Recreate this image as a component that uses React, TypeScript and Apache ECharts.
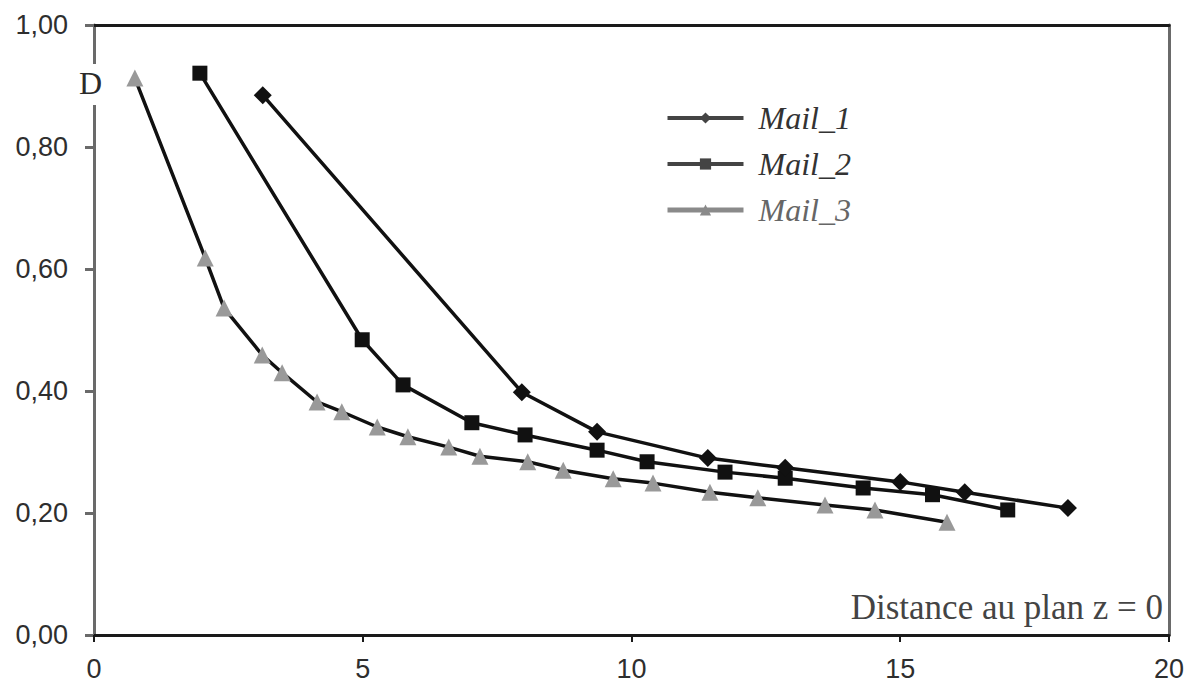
import React, { useEffect, useRef } from "react";
import * as echarts from "echarts";

const seriesNames = ["Mail_1", "Mail_2", "Mail_3"];

const mail1: [number, number][] = [
  [3.14, 0.885], [7.96, 0.398], [9.36, 0.333], [11.42, 0.29], [12.86, 0.274],
  [15.0, 0.251], [16.2, 0.234], [18.12, 0.208],
];

const mail2: [number, number][] = [
  [1.97, 0.921], [4.99, 0.484], [5.75, 0.41], [7.03, 0.348], [8.02, 0.328],
  [9.36, 0.303], [10.29, 0.284], [11.74, 0.267], [12.86, 0.257], [14.31, 0.241],
  [15.6, 0.23], [17.0, 0.205],
];

const mail3: [number, number][] = [
  [0.76, 0.913], [2.07, 0.618], [2.42, 0.536], [3.13, 0.459], [3.5, 0.43],
  [4.15, 0.382], [4.61, 0.366], [5.27, 0.341], [5.84, 0.325], [6.6, 0.308],
  [7.18, 0.293], [8.07, 0.284], [8.73, 0.27], [9.66, 0.256], [10.4, 0.249],
  [11.46, 0.234], [12.35, 0.225], [13.6, 0.213], [14.53, 0.205], [15.87, 0.185],
];

const xTicks = { min: 0, max: 20, interval: 5 };
const yTicks = { min: 0, max: 1, interval: 0.2 };

const yLabelText = "D";
const xLabelText = "Distance au plan z = 0";

export default function App() {
  const ref = useRef<HTMLDivElement>(null);

  useEffect(() => {
    if (!ref.current) return;
    const chart = echarts.init(ref.current, undefined, { renderer: "svg" });
    const labelStyle = {
      fontFamily: "'Liberation Sans', Arial, sans-serif",
      fontSize: 27,
      color: "#2e2e2e",
    };
    chart.setOption({
      animation: false,
      backgroundColor: "#ffffff",
      grid: { left: 94, right: 18, top: 25, bottom: 53 },
      xAxis: [
        {
          type: "value",
          min: xTicks.min,
          max: xTicks.max,
          interval: xTicks.interval,
          axisLine: { show: true, onZero: false, lineStyle: { color: "#1a1a1a", width: 3 } },
          axisTick: { show: true, length: 7, lineStyle: { color: "#1a1a1a", width: 2 } },
          axisLabel: { ...labelStyle, margin: 20 },
          splitLine: { show: false },
        },
        {
          type: "value",
          position: "top",
          min: xTicks.min,
          max: xTicks.max,
          axisLine: { show: true, onZero: false, lineStyle: { color: "#1a1a1a", width: 3 } },
          axisTick: { show: false },
          axisLabel: { show: false },
          splitLine: { show: false },
        },
      ],
      yAxis: [
        {
          type: "value",
          min: yTicks.min,
          max: yTicks.max,
          interval: yTicks.interval,
          axisLine: { show: true, onZero: false, lineStyle: { color: "#6a6a6a", width: 3 } },
          axisTick: { show: true, length: 9, lineStyle: { color: "#6a6a6a", width: 3 } },
          axisLabel: {
            ...labelStyle,
            margin: 26,
            formatter: (v: number) => v.toFixed(2).replace(".", ","),
          },
          splitLine: { show: false },
        },
        {
          type: "value",
          position: "right",
          min: yTicks.min,
          max: yTicks.max,
          axisLine: { show: true, onZero: false, lineStyle: { color: "#6a6a6a", width: 3 } },
          axisTick: { show: false },
          axisLabel: { show: false },
          splitLine: { show: false },
        },
      ],
      legend: {
        orient: "vertical",
        left: 660,
        top: 97,
        itemWidth: 76,
        itemHeight: 14,
        itemGap: 14,
        textStyle: {
          fontFamily: "'Liberation Serif', 'Times New Roman', serif",
          fontStyle: "italic",
          fontSize: 32,
          lineHeight: 32,
          color: "#333333",
          padding: [0, 0, 0, 10],
        },
        data: [
          { name: seriesNames[0], itemStyle: { color: "#444" }, lineStyle: { color: "#444", width: 4 } },
          { name: seriesNames[1], itemStyle: { color: "#444" }, lineStyle: { color: "#444", width: 4 } },
          {
            name: seriesNames[2],
            itemStyle: { color: "#8a8a8a" },
            lineStyle: { color: "#8a8a8a", width: 5 },
            textStyle: { color: "#666666" },
          },
        ],
      },
      graphic: [
        {
          type: "text",
          left: 78,
          top: 64,
          z: 100,
          style: {
            text: yLabelText,
            fontFamily: "'Liberation Serif', 'Times New Roman', serif",
            fontSize: 32,
            fill: "#2a2a2a",
            backgroundColor: "#ffffff",
            padding: [3, 2, 6, 1],
          },
        },
        {
          type: "text",
          right: 24,
          top: 590,
          z: 100,
          style: {
            text: xLabelText,
            fontFamily: "'Liberation Serif', 'Times New Roman', serif",
            fontSize: 35,
            fill: "#444444",
          },
        },
      ],
      series: [
        {
          name: seriesNames[0],
          type: "line",
          data: mail1,
          symbol: "diamond",
          symbolSize: 18,
          itemStyle: { color: "#111111" },
          lineStyle: { color: "#111111", width: 3.5 },
          z: 3,
        },
        {
          name: seriesNames[1],
          type: "line",
          data: mail2,
          symbol: "rect",
          symbolSize: 15,
          itemStyle: { color: "#111111" },
          lineStyle: { color: "#111111", width: 3.5 },
          z: 2,
        },
        {
          name: seriesNames[2],
          type: "line",
          data: mail3,
          symbol: "triangle",
          symbolSize: 17,
          itemStyle: { color: "#999999" },
          lineStyle: { color: "#111111", width: 3.5 },
          z: 1,
        },
      ],
    });
    return () => chart.dispose();
  }, []);

  return (
    <div
      ref={ref}
      style={{ position: "fixed", left: 0, top: 0, width: 1187, height: 688 }}
    />
  );
}
